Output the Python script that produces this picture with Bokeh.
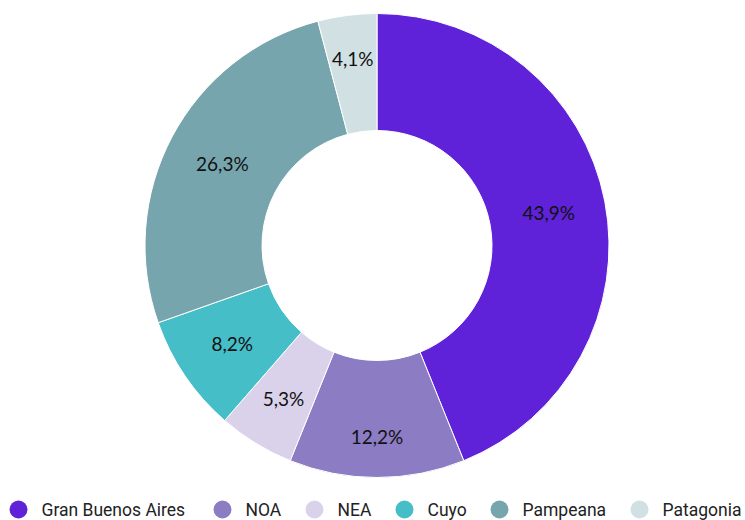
import math
from bokeh.plotting import figure
from bokeh.models import ColumnDataSource, Range1d
from bokeh.core.properties import value
from bokeh.embed import file_html
from bokeh.resources import INLINE

# ---- data ----
regions = ["Gran Buenos Aires", "NOA", "NEA", "Cuyo", "Pampeana", "Patagonia"]
shares = [43.9, 12.2, 5.3, 8.2, 26.3, 4.1]
labels = ["43,9%", "12,2%", "5,3%", "8,2%", "26,3%", "4,1%"]
colors = ["#5f22d9", "#8b7cc3", "#dad2ea", "#45bec7", "#77a5ad", "#d0e0e3"]

# ---- layout (picture pixel coordinates; data y = 520 - picture y) ----
W, H = 745, 520
cx, cy = 376.5, 520 - 245
r_out, r_in = 232, 115
label_radius = [175, 191, 179, 175, 175, 189]
legend_y = 520 - 509
legend_circle_x = [18, 222, 314, 404, 499, 639]

total = sum(shares)
starts, ends, lx, ly = [], [], [], []
cum = 0.0
for s, rl in zip(shares, label_radius):
    a0 = math.pi / 2 - 2 * math.pi * cum / total
    cum += s
    a1 = math.pi / 2 - 2 * math.pi * cum / total
    starts.append(a0)
    ends.append(a1)
    mid = (a0 + a1) / 2
    lx.append(cx + rl * math.cos(mid))
    ly.append(cy + rl * math.sin(mid))

src = ColumnDataSource(dict(start=starts, end=ends, color=colors, lx=lx, ly=ly, label=labels))

p = figure(width=W, height=H, output_backend="svg", toolbar_location=None,
           x_range=Range1d(0, W), y_range=Range1d(520 - H, 520),
           min_border=0, min_border_left=0, min_border_right=0,
           min_border_top=0, min_border_bottom=0)
p.xaxis.visible = False
p.yaxis.visible = False
p.xgrid.visible = False
p.ygrid.visible = False
p.outline_line_color = None
p.background_fill_color = "white"
p.border_fill_color = "white"

p.annular_wedge(x=cx, y=cy, inner_radius=r_in, outer_radius=r_out,
                start_angle="start", end_angle="end", direction="clock",
                fill_color="color", line_color="white", line_width=1, source=src)

p.text(x="lx", y="ly", text="label", source=src, text_align="center",
       text_baseline="middle", text_font=value("Lato"), text_font_size="19px",
       text_color="#111111")

leg = ColumnDataSource(dict(x=legend_circle_x, tx=[x + 23 for x in legend_circle_x],
                            y=[legend_y] * len(regions), color=colors, name=regions))
p.scatter(x="x", y="y", size=18, marker="circle", fill_color="color",
          line_color=None, source=leg)
p.text(x="tx", y="y", text="name", source=leg, text_align="left",
       text_baseline="middle", text_font=value("Roboto"), text_font_size="17.5px",
       text_color="#222222")

open("out.html", "w").write(file_html(p, INLINE))
